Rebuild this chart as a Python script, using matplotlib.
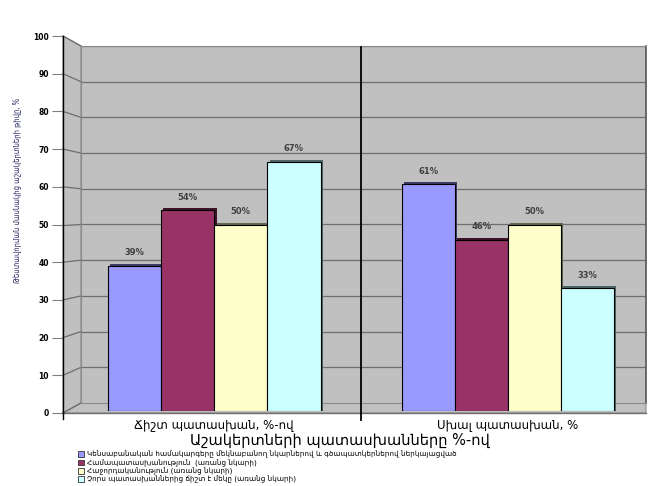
import matplotlib
matplotlib.use('Agg')
import matplotlib.pyplot as plt
from matplotlib.patches import Polygon, Patch
from matplotlib.lines import Line2D
import numpy as np

# Data
categories = ['Ճիշտ պատասխան, %-ով', 'Սխալ պատասխան, %']
series_names = [
    'Կենսաբանական համակարգերը մեկնաբանող նկարներով և գծապատկերներով ներկայացված',
    'Համապատասխանություն  (առանց նկարի)',
    'Հաջորդականություն (առանց նկարի)',
    'Չորս պատասխաններից ճիշտ է մեկը (առանց նկարի)',
]
with_pictures = [39, 61]
matching = [54, 46]
sequence = [50, 50]
four_choice = [67, 33]
series_values = [with_pictures, matching, sequence, four_choice]
y_ticks = list(range(0, 101, 10))

colors = ['#9999FF', '#993366', '#FFFFCC', '#CCFFFF']
shadow_colors = ['#3c3c66', '#3d1429', '#66664f', '#4f6666']
wall_gray = '#c0c0c0'
grid_gray = '#6e6e6e'

plt.rcParams['font.family'] = ['DejaVu Sans']

W, H = 653, 486
fig = plt.figure(figsize=(W / 100, H / 100), dpi=100)


def box(l, t, r, b):
    # pixel box -> figure fraction rect
    return [l / W, 1 - b / H, (r - l) / W, (b - t) / H]


def to_fig(ax, x, y):
    p = ax.transData.transform((x, y))
    return fig.transFigure.inverted().transform(p)


# back wall
wall = fig.add_axes(box(81, 46, 646, 403))
wall.set_facecolor(wall_gray)
wall.set_xlim(0, 1)
wall.set_ylim(0, 100)
wall.set_xticks([])
wall.set_yticks([])
for v in y_ticks[1:]:
    wall.axhline(v, color=grid_gray, lw=0.9)
for s in wall.spines.values():
    s.set_color('#8a8a8a')
    s.set_linewidth(0.8)
wall.spines['right'].set_color('#555555')
wall.spines['right'].set_linewidth(1.2)

# front value axis (tick labels)
front = fig.add_axes(box(63, 36, 70, 413))
front.set_facecolor('none')
front.set_xlim(0, 1)
front.set_ylim(0, 100)
front.set_xticks([])
front.set_yticks(y_ticks)
front.set_yticklabels([str(v) for v in y_ticks], fontsize=5.5, fontweight='bold')
front.tick_params(axis='y', length=8, width=0.8, color='#808080', pad=2)
for k in ['top', 'right', 'bottom']:
    front.spines[k].set_visible(False)
front.spines['left'].set_linewidth(1.0)

# left wall and floor
fl_top = to_fig(front, 0, 100)
fl_bot = to_fig(front, 0, 0)
bk_top = to_fig(wall, 0, 100)
bk_bot = to_fig(wall, 0, 0)
bk_right = to_fig(wall, 1, 0)
left_wall = Polygon([fl_top, bk_top, bk_bot, fl_bot], closed=True,
                    transform=fig.transFigure, facecolor=wall_gray,
                    edgecolor='#8a8a8a', lw=0.8, zorder=-1)
fig.add_artist(left_wall)
floor = Polygon([fl_bot, bk_bot, bk_right, (bk_right[0], fl_bot[1])], closed=True,
                transform=fig.transFigure, facecolor=wall_gray,
                edgecolor='#8a8a8a', lw=0.8, zorder=-1)
fig.add_artist(floor)
for v in y_ticks:
    a = to_fig(front, 0, v)
    b = to_fig(wall, 0, v)
    fig.add_artist(Line2D([a[0], b[0]], [a[1], b[1]], transform=fig.transFigure,
                          color=grid_gray, lw=0.9, zorder=-0.5))
fig.add_artist(Line2D([fl_bot[0], bk_right[0]], [fl_bot[1], fl_bot[1]],
                      transform=fig.transFigure, color='#707070', lw=1.0, zorder=-0.5))
fig.add_artist(Line2D([fl_bot[0], fl_bot[0]], [fl_bot[1], fl_bot[1] - 6 / H],
                      transform=fig.transFigure, color='black', lw=1.0))

# bars
ax = fig.add_axes(box(81, 39, 646, 411))
ax.set_facecolor('none')
ax.set_xlim(-0.454, 1.471)
ax.set_ylim(0, 100)
ax.axis('off')

x = np.arange(len(categories))
bw = 0.181
offsets = (np.arange(len(series_values)) - 1.5) * bw
for i, vals in enumerate(series_values):
    ax.bar(x + offsets[i] + 0.008, np.array(vals) + 0.5, bw, color=shadow_colors[i],
           zorder=1)
for i, vals in enumerate(series_values):
    ax.bar(x + offsets[i], vals, bw, color=colors[i], edgecolor='black', lw=0.8,
           zorder=2, label=series_names[i])
    for xi, v in zip(x + offsets[i], vals):
        ax.text(xi, v + 3.5, f'{v}%', ha='center', va='center', fontsize=6,
                fontweight='bold', color='#404040', zorder=3)

ax.plot([0.5, 0.5], [-2.4, 97.8], color='black', lw=1.3, clip_on=False, zorder=3)

for xi, c in zip(x, categories):
    ax.text(xi, -3.6, c, ha='center', va='center', fontsize=8.5, clip_on=False)

fig.text(340 / W, 1 - 440 / H, 'Աշակերտների պատասխանները %-ով', ha='center',
         va='center', fontsize=10.5)
fig.text(18 / W, 1 - 190 / H, 'Թեստավորման մասնակից աշակերտների թիվը, %',
         rotation=90, ha='center', va='center', fontsize=5.5, fontstretch='condensed',
         color='#202060')

handles = [Patch(facecolor=c, edgecolor='#333333', lw=0.6) for c in colors]
fig.legend(handles, series_names, loc='upper left',
           bbox_to_anchor=(78 / W, 1 - 451 / H), frameon=False, fontsize=5.2,
           handlelength=0.8, handleheight=0.8, handletextpad=0.4,
           labelspacing=0.12, borderpad=0, borderaxespad=0)

fig.savefig('out.png', dpi=100)
